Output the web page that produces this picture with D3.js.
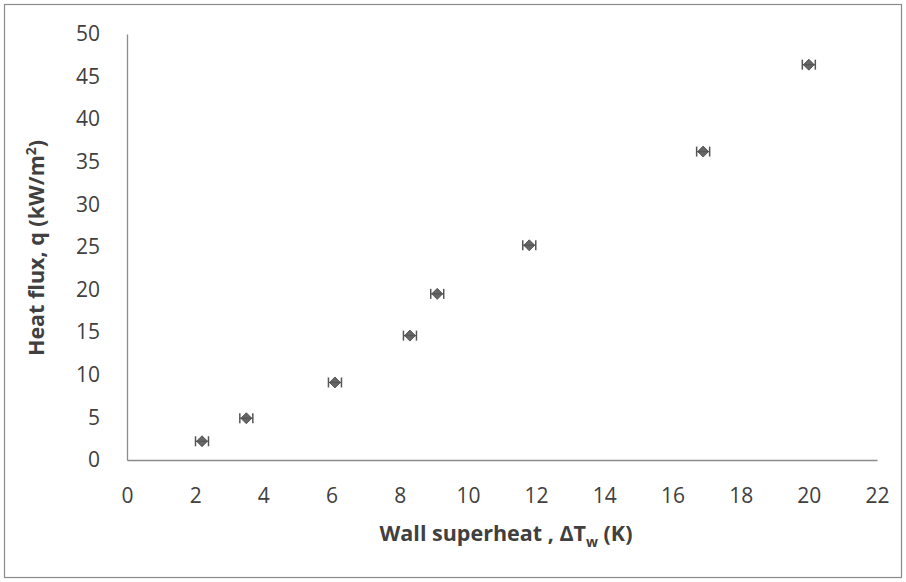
<!DOCTYPE html>
<html><head><meta charset="utf-8">
<script src="https://cdn.jsdelivr.net/npm/d3@7"></script>
<style>body{margin:0;background:#fff}svg{display:block}</style>
</head><body>
<script>
const superheat = [2.2, 3.5, 6.1, 8.3, 9.1, 11.8, 16.9, 20.0];
const heatFlux = [2.2, 4.9, 9.1, 14.6, 19.5, 25.2, 36.2, 46.4];
const xTicks = [0,2,4,6,8,10,12,14,16,18,20,22];
const yTicks = [0,5,10,15,20,25,30,35,40,45,50];

const W = 906, H = 582;
const svg = d3.select("body").append("svg").attr("width", W).attr("height", H);
svg.append("rect").attr("x",4.5).attr("y",4.5).attr("width",W-9).attr("height",H-9)
  .attr("fill","#fff").attr("stroke","#8a8a8a").attr("stroke-width",1.2);

const x = d3.scaleLinear().domain([0,22]).range([127,877]);
const y = d3.scaleLinear().domain([0,50]).range([460,34]);
const font = "'Open Sans', sans-serif";

// axes
const xa = svg.append("g").attr("transform","translate(0,460)")
  .call(d3.axisBottom(x).tickValues(xTicks).tickSize(0).tickPadding(35).tickFormat(d3.format("d")));
const ya = svg.append("g").attr("transform","translate(127,0)")
  .call(d3.axisLeft(y).tickValues(yTicks).tickSize(0).tickPadding(27).tickFormat(d3.format("d")));
[xa, ya].forEach(g=>{
  g.select(".domain").attr("stroke","#8c8c8c").attr("stroke-width",1.3);
  g.selectAll("text").attr("font-family",font).attr("font-size",21).attr("fill","#404040");
});
xa.selectAll("text").attr("dy","0.36em");

// titles
const xt = svg.append("text").attr("x",506).attr("y",541).attr("text-anchor","middle")
  .attr("font-family",font).attr("font-size",21.5).attr("font-weight","bold").attr("fill","#404040");
xt.append("tspan").text("Wall superheat , ΔT");
xt.append("tspan").attr("font-size",14).attr("dy",6).text("w");
xt.append("tspan").attr("dy",-6).text(" (K)");

const yt = svg.append("text").attr("transform","translate(44,248) rotate(-90)").attr("text-anchor","middle")
  .attr("font-family",font).attr("font-size",21.5).attr("font-weight","bold").attr("fill","#404040");
yt.append("tspan").text("Heat flux, q (kW/m");
yt.append("tspan").attr("font-size",14).attr("dy",-8).text("2");
yt.append("tspan").attr("dy",8).text(")");

// markers
const pts = svg.append("g").selectAll("g").data(superheat.map((d,i)=>[d,heatFlux[i]])).join("g")
  .attr("transform",d=>`translate(${x(d[0])},${y(d[1])})`);
pts.append("path").attr("d","M0,-5.5L5.5,0L0,5.5L-5.5,0Z").attr("fill","#666").attr("stroke","#444").attr("stroke-width",0.8);
pts.append("line").attr("x1",-6.5).attr("x2",6.5).attr("y1",0).attr("y2",0).attr("stroke","#555").attr("stroke-width",1.2);
pts.append("line").attr("x1",-6.5).attr("x2",-6.5).attr("y1",-5).attr("y2",5).attr("stroke","#555").attr("stroke-width",1.5);
pts.append("line").attr("x1",6.5).attr("x2",6.5).attr("y1",-5).attr("y2",5).attr("stroke","#555").attr("stroke-width",1.5);
</script>
</body></html>
